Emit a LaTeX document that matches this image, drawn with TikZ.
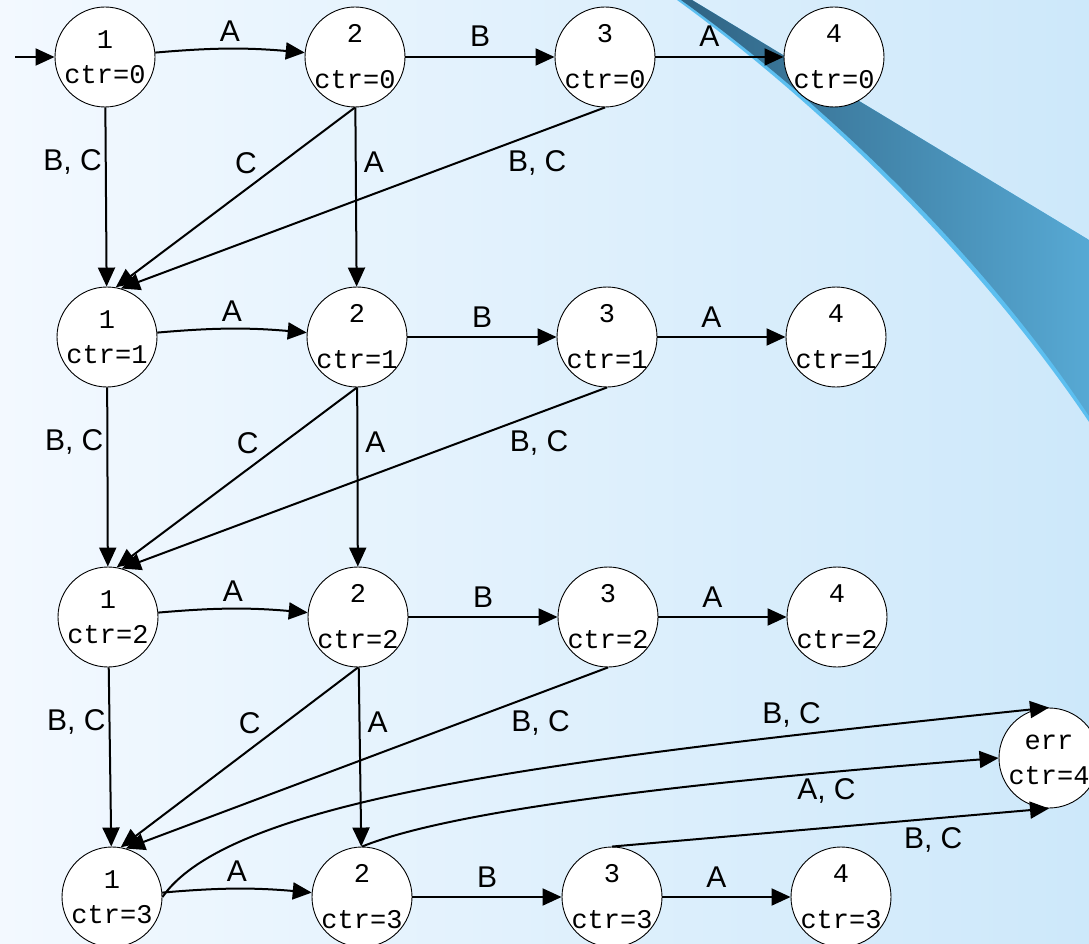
\documentclass[tikz,border=0pt]{standalone}
\usepackage{fontspec}
\setmainfont{Liberation Sans}
\newfontfamily\ctrfont{Liberation Mono}
\usetikzlibrary{arrows.meta}
\definecolor{bgleft}{HTML}{F3F9FF}
\definecolor{bgright}{HTML}{CDE8FA}
\definecolor{swooshdark}{HTML}{2F6383}
\definecolor{swooshmid}{HTML}{57A9D4}
\definecolor{swooshedge}{HTML}{5CBFF0}

\begin{document}
\begin{tikzpicture}[
  x=1pt, y=1pt,
  stnode/.style={circle, draw, line width=0.9pt, fill=white, minimum size=100pt,
                 inner sep=-3pt, align=center, font=\ctrfont\fontsize{27}{46}\selectfont},
  stfirst/.style={stnode, font=\ctrfont\fontsize{27}{35}\selectfont},
  arr/.style={-{Triangle[length=19pt, width=17pt]}, line width=2pt},
  lab/.style={font=\fontsize{30}{34}\selectfont, inner sep=0pt}
]
\useasboundingbox (0,0) rectangle (1089,-944);
% ----- slide background and swoosh -----
\shade[left color=bgleft, right color=bgright] (0,0) rectangle (1089,-944);
\fill[swooshedge] (692,0) -- (1089,-240) -- (1089,-422)
  .. controls (976,-254) and (816,-101) .. (677,0) -- cycle;
\shade[left color=swooshdark, right color=swooshmid] (692,0) -- (1089,-240) -- (1089,-416)
  .. controls (978,-248) and (818,-98) .. (681,0) -- cycle;
% ----- states, one row per counter value -----
\foreach \r/\y/\dx in {0/57/0, 1/337/2, 2/617/3, 3/897/7}{
  \node[stfirst] (s1\r) at (105+\dx,-\y) {1\\ctr=\r};
  \foreach \c/\x in {2/355, 3/605, 4/834}
    \node[stnode] (s\c\r) at (\x+\dx,-\y) {\c\\ctr=\r};
}
\node[stfirst] (err) at (1049,-758) {\vphantom{1}err\\ctr=4};
% ----- entry -----
\coordinate (entry) at (15,-57);
\draw[arr] (entry) -- (s10);
% ----- along each row -----
\foreach \r in {0,...,3}{
  \draw[arr] (s1\r) to[bend left=5] node[lab, above=6pt]{A} (s2\r);
  \draw[arr] (s2\r) -- node[lab, above=9pt]{B} (s3\r);
  \draw[arr] (s3\r) -- node[lab, pos=0.42, above=9pt]{A} (s4\r);
}
% ----- down to the next counter value -----
\foreach \r/\n in {0/1, 1/2, 2/3}{
  \draw[arr] (s1\r) -- node[lab, pos=0.305, left=3pt]{B, C} (s1\n);
  \draw[arr] (s2\r) -- node[lab, pos=0.305, right=7pt]{A} (s2\n);
  \draw[arr] (s2\r.south) -- node[lab, pos=0.31, left=23pt]{C} (s1\n.80);
  \draw[arr] (s3\r.south) -- node[lab, pos=0.14, below=17pt]{B, C} (s1\n.74);
}
% ----- overflow into err -----
\draw[arr] (s13.east) to[out=55, in=186, out distance=120pt, in distance=500pt]
  node[lab, pos=0.815, above=7pt]{B, C} (err.north);
\draw[arr] (s23.north) to[out=22, in=184.5, out distance=100pt, in distance=300pt]
  node[lab, pos=0.8, below=5pt]{A, C} (err.west);
\draw[arr] (s33.north) -- node[lab, pos=0.735, below=8pt]{B, C} (err.south);
\end{tikzpicture}
\end{document}
